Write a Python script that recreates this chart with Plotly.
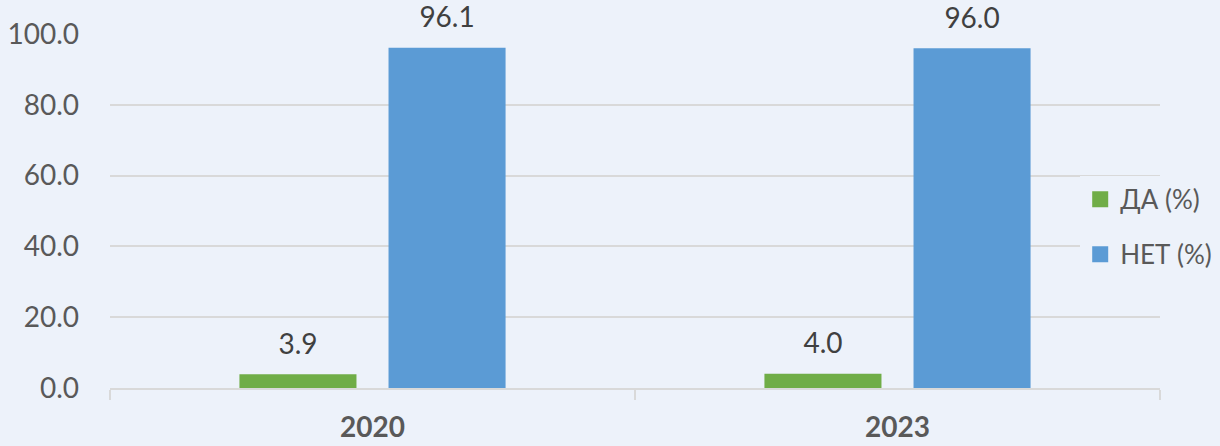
import plotly.graph_objects as go

years = ["2020", "2023"]
da_values = [3.9, 4.0]
net_values = [96.1, 96.0]
series_names = ["ДА (%)", "НЕТ (%)"]
y_ticks = [0, 20, 40, 60, 80, 100]
y_tick_labels = ["0.0", "20.0", "40.0", "60.0", "80.0", "100.0"]

GREEN = "#70AD47"
BLUE = "#5B9BD5"
BG = "#EDF2FA"
TXT = "#595959"
LBL = "#404040"
GRID = "#D9D9D9"
FONT = "Lato, Open Sans, sans-serif"
FS = 28
GAP = 0.432

fig = go.Figure()
series = [(da_values, GREEN, series_names[0]), (net_values, BLUE, series_names[1])]
for vals, color, name in series:
    fig.add_trace(go.Bar(
        x=years, y=vals, marker=dict(color=color, line=dict(width=0)),
        showlegend=False, hoverinfo="skip", offsetgroup=name,
    ))
for vals, color, name in series:
    fig.add_trace(go.Scatter(
        x=years, y=vals, mode="markers+text", offsetgroup=name,
        marker=dict(size=20, opacity=0), text=[f"{v:.1f}" for v in vals],
        textposition="top center", textfont=dict(size=FS, color=LBL, family=FONT),
        cliponaxis=False, showlegend=False, hoverinfo="skip",
    ))
for vals, color, name in series:
    fig.add_trace(go.Scatter(
        x=[None], y=[None], mode="markers", name=name, legendgroup=name,
        marker=dict(symbol="square", size=18, color=color),
        xaxis="x2", yaxis="y2",
    ))

fig.update_layout(
    width=1220, height=446,
    paper_bgcolor=BG, plot_bgcolor=BG,
    margin=dict(l=110, r=60, t=34, b=58, autoexpand=False),
    barmode="group", bargap=GAP, bargroupgap=0.215,
    scattermode="group", scattergap=GAP,
    font=dict(family=FONT, color=TXT, size=FS),
    legend=dict(
        x=0.924, xanchor="left", y=0.455, yanchor="middle",
        bgcolor=BG, font=dict(size=26, color=TXT, family=FONT),
        traceorder="grouped", tracegroupgap=18, itemsizing="trace",
    ),
    xaxis=dict(
        showgrid=False, showline=True, linecolor=GRID, linewidth=1.5,
        ticks="outside", tickson="boundaries", ticklen=10, tickcolor=GRID, tickwidth=1.5,
        tickfont=dict(size=FS, color=TXT, family=FONT, weight="bold"),
        ticklabelstandoff=14,
    ),
    yaxis=dict(
        range=[0, 100], tickvals=y_ticks, ticktext=y_tick_labels,
        showgrid=True, gridcolor=GRID, gridwidth=1.5, zeroline=False,
        showline=False, ticks="", tickfont=dict(size=FS, color=TXT, family=FONT),
        ticklabelstandoff=30,
    ),
    xaxis2=dict(overlaying="x", visible=False),
    yaxis2=dict(overlaying="y", visible=False),
)

fig.write_html("out.html", config={"displayModeBar": False},
               post_script="document.body.style.margin='0';")
